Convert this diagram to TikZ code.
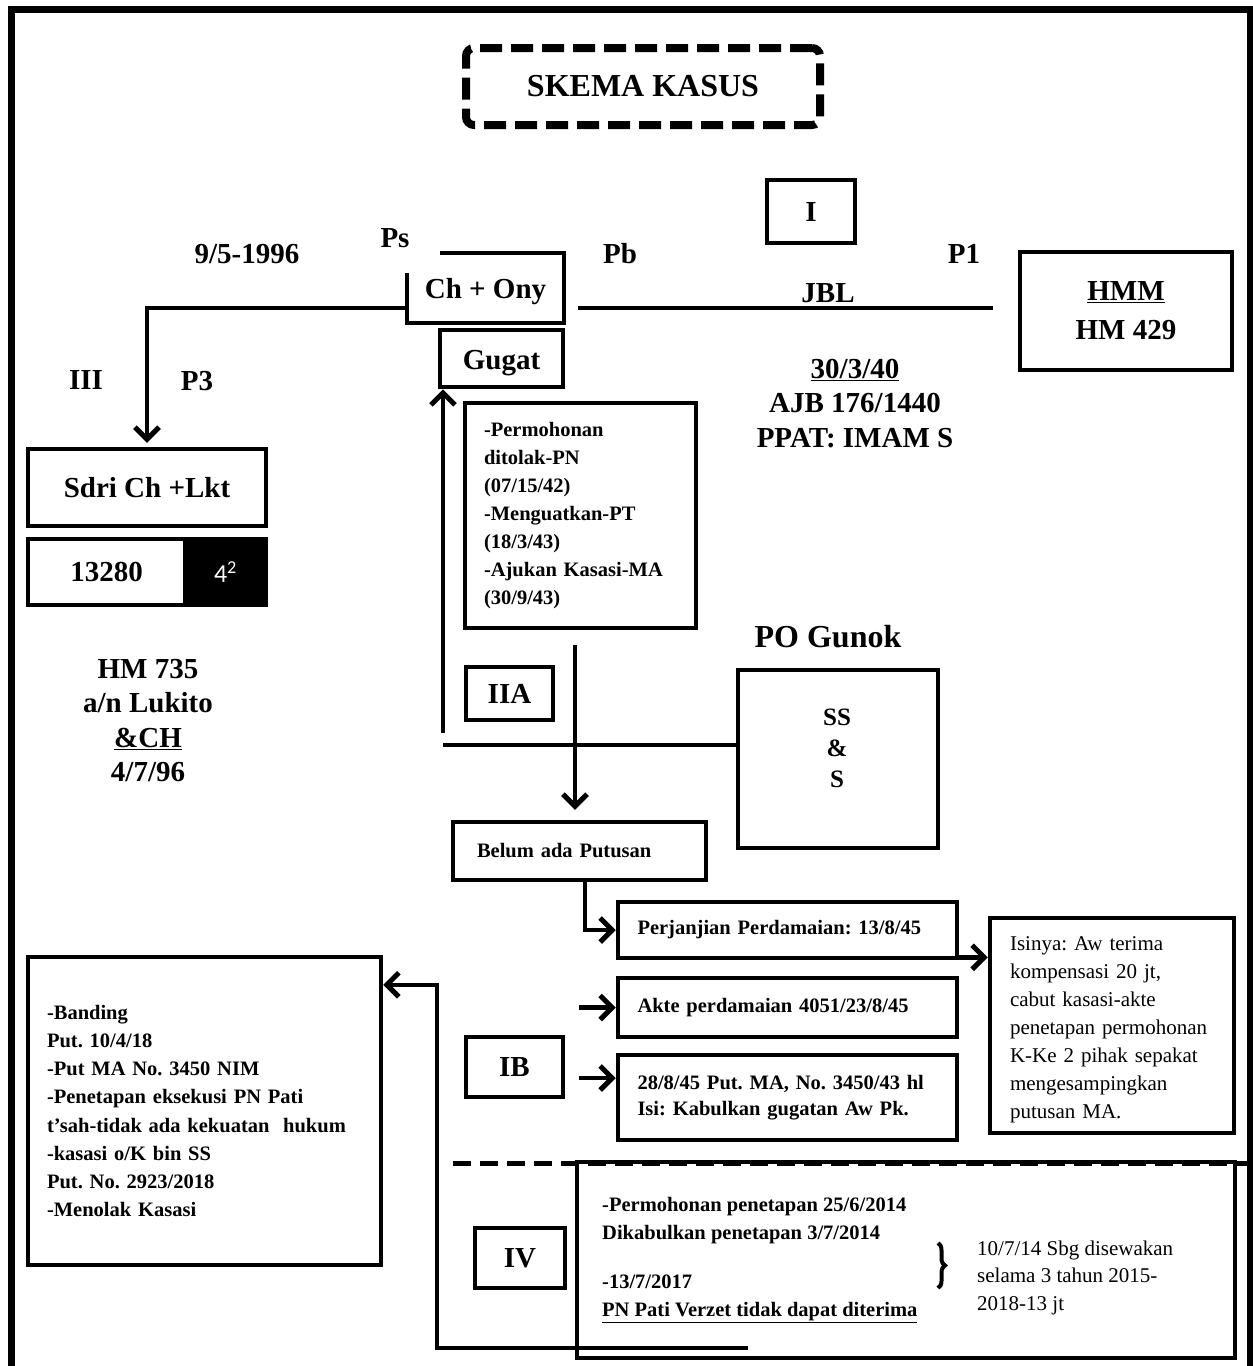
\documentclass[tikz,border=0pt]{standalone}
\usepackage{fontspec}
\setmainfont{Liberation Serif}
\newfontfamily\calibrifont{Carlito}
\usetikzlibrary{arrows.meta, positioning, calc, decorations.pathreplacing}
\frenchspacing

\newcommand{\fbig}{\fontsize{29}{34}\selectfont\bfseries}
\newcommand{\fsmall}{\fontsize{20.5}{28}\selectfont\bfseries}
\newcommand{\fplain}{\fontsize{21}{28}\selectfont}

\begin{document}
\begin{tikzpicture}[x=1pt, y=-1pt,
    box/.style={draw, line width=4.5pt, inner sep=0pt},
    lbl/.style={inner sep=0pt, outer sep=0pt, font=\fbig},
    rowbox/.style={box, text width=300pt, inner xsep=19.5pt, align=left, font=\fsmall},
    link/.style={line width=4.5pt},
    arr/.style={line width=4.5pt, -{Straight Barb[length=12pt,width=24pt,line width=5pt]}}]
  \useasboundingbox (0,0) rectangle (1253,1366);
  % Outer frame
  \draw[line width=7pt] (11.5,1375) -- (11.5,9.5) -- (1250.5,9.5) -- (1250.5,1375);
  % Title
  \node[draw, line width=8pt, dash pattern=on 22pt off 9pt, rounded corners=8pt,
        minimum width=354pt, minimum height=77pt,
        font=\fontsize{32}{38}\selectfont\bfseries] (title) at (643,86.5) {SKEMA KASUS};

  % Top row
  \node[lbl] (date) at (247,254) {9/5-1996};
  \node[lbl] (ps) at (395,238) {Ps};
  \node[lbl] (pb) at (620,254) {Pb};
  \node[lbl] (p1) at (964,254) {P1};
  \node[box, minimum width=88pt, minimum height=63pt, font=\fbig] (partI) at (811,211.5) {I};
  \node[lbl, minimum width=157pt, minimum height=70pt, text height=24pt, text depth=4pt] (chony) at (485.5,288) {Ch + Ony};
  \draw[link] ([xshift=33pt]chony.north west) -- (chony.north east) -- (chony.south east)
    -- (chony.south west) -- ([yshift=-20pt]chony.north west);
  \node[box, minimum width=212pt, minimum height=118pt, align=center,
        font=\fontsize{29}{39}\selectfont\bfseries] (hmm) at (1126,311) {\underline{HMM}\\HM 429};
  \node[box, minimum width=123pt, minimum height=57pt, text height=26pt, text depth=4pt, font=\fbig] (gugat) at (501.5,358.5) {Gugat};
  \node[lbl] (jbl) at (828,293) {JBL};
  \node[lbl, align=center, font=\fontsize{29}{34.5}\selectfont\bfseries] (deed) at (855,403.5)
    {\underline{30/3/40}\\AJB 176/1440\\PPAT: IMAM S};

  % Left column
  \node[lbl] (iii) at (86,380) {III};
  \node[lbl] (p3) at (197,381) {P3};
  \node[box, minimum width=238pt, minimum height=77pt, font=\fbig] (sdri) at (147,487.5) {Sdri Ch +Lkt};
  \node[box, minimum width=157pt, minimum height=66pt, font=\fbig] (luas) at (106.5,572) {13280};
  \node[box, fill=black, text=white, minimum width=81pt, minimum height=66pt,
        font=\fontsize{26}{30}\selectfont\calibrifont] (luaspow) at (225.5,572) {4\textsuperscript{2}};
  \node[lbl, align=center, font=\fontsize{29}{34.3}\selectfont\bfseries] (hm735) at (148,720.5)
    {HM 735\\a/n Lukito\\\underline{\&CH}\\4/7/96};

  % Middle column
  \node[box, minimum height=225pt, text width=193pt, inner xsep=19pt, align=left, font=\fsmall]
    (mohon) at (580.5,515.5)
    {-Permohonan\\ditolak-PN\\(07/15/42)\\-Menguatkan-PT\\(18/3/43)\\-Ajukan Kasasi-MA\\(30/9/43)};
  \node[box, minimum width=87pt, minimum height=53pt, font=\fbig] (iia) at (509.5,693.5) {IIA};
  \node[lbl, font=\fontsize{32}{38}\selectfont\bfseries] (pogunok) at (828,637) {PO Gunok};
  \node[box, minimum width=200pt, minimum height=178pt] (ss) at (838,759) {};
  \node[lbl, align=center, font=\fontsize{25}{31}\selectfont\bfseries] (sstext) at (837,748) {SS\\\&\\S};
  \node[box, minimum height=58pt, text width=205pt, inner xsep=24pt, align=left, font=\fsmall]
    (belum) at (579.5,851) {Belum ada Putusan};

  % Settlement rows
  \node[rowbox, minimum height=56pt] (perj) at (787.5,930) {Perjanjian Perdamaian: 13/8/45};
  \node[rowbox, minimum height=59pt] (akte) at (787.5,1007.5) {Akte perdamaian 4051/23/8/45};
  \node[rowbox, minimum height=85pt] (put) at (787.5,1097.5)
    {28/8/45 Put. MA, No. 3450/43 hl\\[-2pt]Isi: Kabulkan gugatan Aw Pk.};
  \node[box, minimum width=97pt, minimum height=60pt, font=\fbig] (ib) at (514.5,1067) {IB};
  \node[box, minimum width=244pt, minimum height=215pt] (isi) at (1112,1025.5) {};
  \begin{scope}
    \clip (isi.north west) rectangle ([yshift=13pt]isi.south east);
    \node[inner sep=0pt, text width=206pt, align=left, font=\fplain] (isitext) at (1113,1030)
      {Isinya: Aw terima\\kompensasi 20 jt,\\cabut kasasi-akte\\penetapan permohonan\\K-Ke 2 pihak sepakat\\mengesampingkan\\putusan MA.};
  \end{scope}

  % Appeal box
  \node[box, minimum height=308pt, text width=315pt, inner xsep=19pt, align=left,
        font=\fontsize{20.5}{28.2}\selectfont\bfseries] (band) at (204.5,1111)
    {-Banding\\Put. 10/4/18\\-Put MA No. 3450 NIM\\-Penetapan eksekusi PN Pati\\t’sah-tidak ada kekuatan~ hukum\\-kasasi o/K bin SS\\Put. No. 2923/2018\\-Menolak Kasasi};

  % Part IV
  \coordinate (divl) at (453,1163);
  \coordinate (divr) at (1247,1163);
  \draw[line width=5pt, dash pattern=on 18pt off 9pt] (divl) -- (divr);
  \node[box, minimum width=658pt, minimum height=196pt] (ivbox) at (906,1260) {};
  \node[box, minimum width=90pt, minimum height=60pt, font=\fbig] (iv) at (520,1258) {IV};
  \node[anchor=west, align=left, inner sep=0pt, font=\fsmall] (ivtext) at (602,1260)
    {-Permohonan penetapan 25/6/2014\\Dikabulkan penetapan 3/7/2014\\[21pt]-13/7/2017\\\underline{PN Pati Verzet tidak dapat diterima}};
  \coordinate (brtop) at (938,1243);
  \coordinate (brbot) at (938,1288);
  \draw[decorate, decoration={brace, amplitude=7pt}, line width=4pt] (brtop) -- (brbot);
  \node[anchor=west, align=left, inner sep=0pt, font=\fontsize{21}{27.5}\selectfont] (sewa) at (977,1277.5)
    {10/7/14 Sbg disewakan\\selama 3 tahun 2015-\\2018-13 jt};

  % Connectors
  \coordinate (jblend) at ([xshift=-25pt,yshift=3pt]hmm.west);
  \draw[link] ([xshift=14pt,yshift=-20pt]chony.east) -- (jblend);
  \draw[arr, shorten >=4pt] ([yshift=-20pt]chony.west) -| (sdri.north);
  \coordinate (upstart) at (443,733);
  \draw[arr] (upstart) -- (upstart |- gugat.south);
  \coordinate (sslink) at (443,745);
  \draw[link] (sslink) -- (sslink -| ss.west);
  \coordinate (downstart) at (575,645);
  \draw[arr, shorten >=10pt] (downstart) -- (downstart |- belum.north);
  \draw[arr] ([xshift=5.5pt]belum.south) |- (perj.west);
  \coordinate (perjout) at ([yshift=3pt]perj.south east);
  \draw[arr] (perjout) -- (perjout -| isi.west);
  \coordinate (aktein) at (579,1007.5);
  \draw[arr] (aktein) -- (akte.west);
  \coordinate (putin) at (579,1078);
  \draw[arr] (putin) -- (putin -| put.west);
  \coordinate (ivtail) at (748,1348);
  \coordinate (ivbend) at (437,1348);
  \draw[arr] (ivtail) -- (ivbend) |- ([yshift=-30pt]band.north east);
\end{tikzpicture}
\end{document}
